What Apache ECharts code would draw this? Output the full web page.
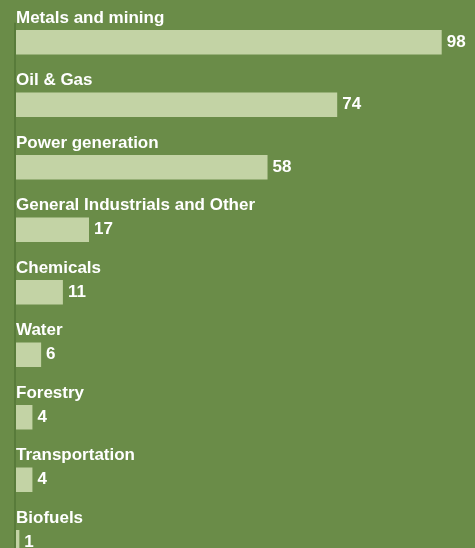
<!DOCTYPE html>
<html>
<head>
<meta charset="utf-8">
<script src="https://cdn.jsdelivr.net/npm/echarts@6/dist/echarts.min.js"></script>
<style>
html,body{margin:0;padding:0;background:#6a8c48;}
#c{width:475px;height:548px;}
</style>
</head>
<body>
<div id="c"></div>
<script>
const categories = ["Metals and mining","Oil & Gas","Power generation","General Industrials and Other","Chemicals","Water","Forestry","Transportation","Biofuels"];
const values = [98,74,58,17,11,6,4,4,1];

const chart = echarts.init(document.getElementById('c'), null, {renderer:'canvas'});
const font = 'Liberation Sans, Arial, sans-serif';
chart.setOption({
  backgroundColor: '#6a8c48',
  animation: false,
  grid: {left: 15, right: 33.3, top: 11, height: 562.5, containLabel: false, outerBoundsMode: 'none'},
  xAxis: {type: 'value', min: 0, max: 98, show: false},
  yAxis: {type: 'category', data: categories, inverse: true,
    axisLine: {show: false}, axisTick: {show: false}, axisLabel: {show: false}, splitLine: {show: false}},
  series: [
    {
      type: 'bar', data: values, barWidth: 24.5, z: 2,
      itemStyle: {color: '#c3d3a5'},
      label: {show: true, position: 'right', distance: 5, color: '#ffffff',
        fontFamily: font, fontWeight: 'bold', fontSize: 17}
    },
    {
      type: 'bar', data: values, barWidth: 24.5, barGap: '-100%', z: 1,
      itemStyle: {color: 'rgba(0,0,0,0)'},
      label: {show: true, position: [1, -3.5], align: 'left', verticalAlign: 'bottom',
        formatter: '{b}', color: '#ffffff', fontFamily: font, fontWeight: 'bold', fontSize: 17}
    }
  ]
});

const x0 = chart.convertToPixel({xAxisIndex: 0}, 0);
const yFirst = chart.convertToPixel({yAxisIndex: 0}, categories[0]);
chart.setOption({
  graphic: [{
    type: 'line', z: 10,
    shape: {x1: x0, y1: yFirst - 19.5, x2: x0, y2: 548},
    style: {stroke: '#587b3a', lineWidth: 2}
  }]
});
</script>
</body>
</html>
